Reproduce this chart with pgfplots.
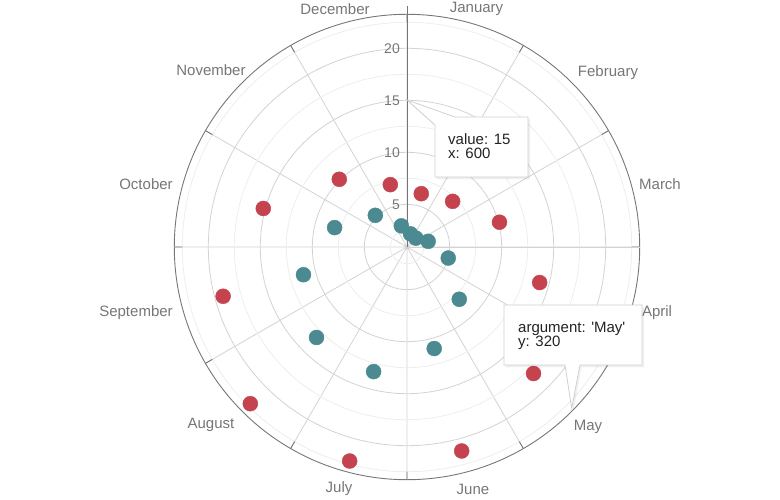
\documentclass[border=0pt]{standalone}
\usepackage{pgfplots}
\pgfplotsset{compat=1.18}
\usepackage{pgfplotstable}
\usepgfplotslibrary{polar}
\usepackage{fontspec}
\setmainfont{Liberation Sans}
\definecolor{redpt}{HTML}{C5434F}
\definecolor{tealpt}{HTML}{4B8A91}
\definecolor{axgray}{HTML}{767676}
\definecolor{gridmaj}{HTML}{D3D3D3}
\definecolor{gridmin}{HTML}{EDEDED}
\definecolor{txt}{HTML}{767676}
\definecolor{tt}{HTML}{232323}
\definecolor{ttborder}{HTML}{D0D0D0}

% month index (0 = January), value
\pgfplotstableread{
m v
0 6.2
1 7.1
2 10.1
3 14.1
4 18.1
5 21.2
6 22.2
7 22.2
8 19.2
9 15.2
10 10.1
11 7.1
}\highT
\pgfplotstableread{
m v
0 2.2
1 2.1
2 3.0
3 5.0
4 8.0
5 11.0
6 13.3
7 13.2
8 11.2
9 8.1
10 5.2
11 3.0
}\lowT

\begin{document}
\begin{tikzpicture}
\begin{polaraxis}[
  scale only axis, width=465.4bp, height=465.4bp,
  xmin=0, xmax=360, ymin=0, ymax=22.376,
  xtick={0,30,...,330}, xticklabels={},
  ytick={4.106,9.106,14.106,19.106}, yticklabels={},
  minor ytick={1.606,6.606,11.606,16.606,21.606},
  xmajorgrids, ymajorgrids, yminorgrids,
  major grid style={gridmaj, line width=0.8bp},
  minor grid style={gridmin, line width=0.8bp},
  x axis line style={axgray, line width=0.9bp},
  y axis line style={draw=none},
  x tick style={axgray, line width=0.9bp},
  ytick style={draw=none},
  major tick length=8bp,
  tick align=outside,
  clip=false,
]
\coordinate (C) at (axis cs:0,0);
\draw[gridmaj, line width=0.8bp] (axis cs:0,0) -- (axis cs:0,22.376);
\draw[axgray, line width=0.9bp] (axis cs:90,0) -- (axis cs:90,23.15);
\addplot[only marks, mark=*, mark size=7.5bp, color=redpt, mark options={draw=redpt, fill=redpt}]
  table[x expr=75-30*\thisrow{m}, y expr=\thisrow{v}-0.894] {\highT};
\addplot[only marks, mark=*, mark size=7.5bp, color=tealpt, mark options={draw=tealpt, fill=tealpt}]
  table[x expr=75-30*\thisrow{m}, y expr=\thisrow{v}-0.894] {\lowT};
\node[anchor=east, inner sep=0pt, xshift=-7bp, text=txt, font=\fontsize{14bp}{16bp}\selectfont] at (axis cs:90,4.106) {5};
\node[anchor=east, inner sep=0pt, xshift=-7bp, text=txt, font=\fontsize{14bp}{16bp}\selectfont] at (axis cs:90,9.106) {10};
\node[anchor=east, inner sep=0pt, xshift=-7bp, text=txt, font=\fontsize{14bp}{16bp}\selectfont] at (axis cs:90,14.106) {15};
\node[anchor=east, inner sep=0pt, xshift=-7bp, text=txt, font=\fontsize{14bp}{16bp}\selectfont] at (axis cs:90,19.106) {20};
\end{polaraxis}
\begin{scope}[shift={(C)}, x=1bp, y=-1bp, font=\fontsize{15bp}{18bp}\selectfont]
  % month labels
  \foreach \dx/\dy/\name in {-72/-238/December, 69.5/-238/January, 201/-174/February,
     253/-63/March, 250/66/April, 181/180/May, 66/242/June, -68/242/July,
     -196/178/August, -271/66/September, -261/-63/October, -196/-177/November}{
    \node[inner sep=0pt, text=txt] at (\dx,\dy) {\name};
  }
  % tooltip 1
  \fill[black, opacity=0.06] (1.5,-145) -- (49.5,-128) -- (123,-128) -- (123,-67.5) -- (29.5,-67.5) -- (29.5,-120) -- cycle;
  \filldraw[fill=white, draw=ttborder, line width=0.8bp] (0,-147) -- (48,-130) -- (121,-130) -- (121,-70) -- (28,-70) -- (28,-122) -- cycle;
  \node[anchor=base west, inner sep=0pt, text=tt, align=left, font=\fontsize{15bp}{14bp}\selectfont] at (41,-88.7) {value: 15\\x: 600};
  % tooltip 2
  \fill[black, opacity=0.06] (98.5,60) -- (237,60) -- (237,120.5) -- (174.5,120.5) -- (166.5,163.5) -- (159.5,120.5) -- (98.5,120.5) -- cycle;
  \filldraw[fill=white, draw=ttborder, line width=0.8bp] (97,58) -- (235,58) -- (235,118) -- (173,118) -- (164.7,161.3) -- (158,118) -- (97,118) -- cycle;
  \node[anchor=base west, inner sep=0pt, text=tt, align=left, font=\fontsize{15bp}{13.5bp}\selectfont] at (111,99.7) {argument: \textquotesingle May\textquotesingle\\y: 320};
  \pgfresetboundingbox
  \path[use as bounding box] (-407,-247) rectangle (373,253);
\end{scope}
\end{tikzpicture}
\end{document}
